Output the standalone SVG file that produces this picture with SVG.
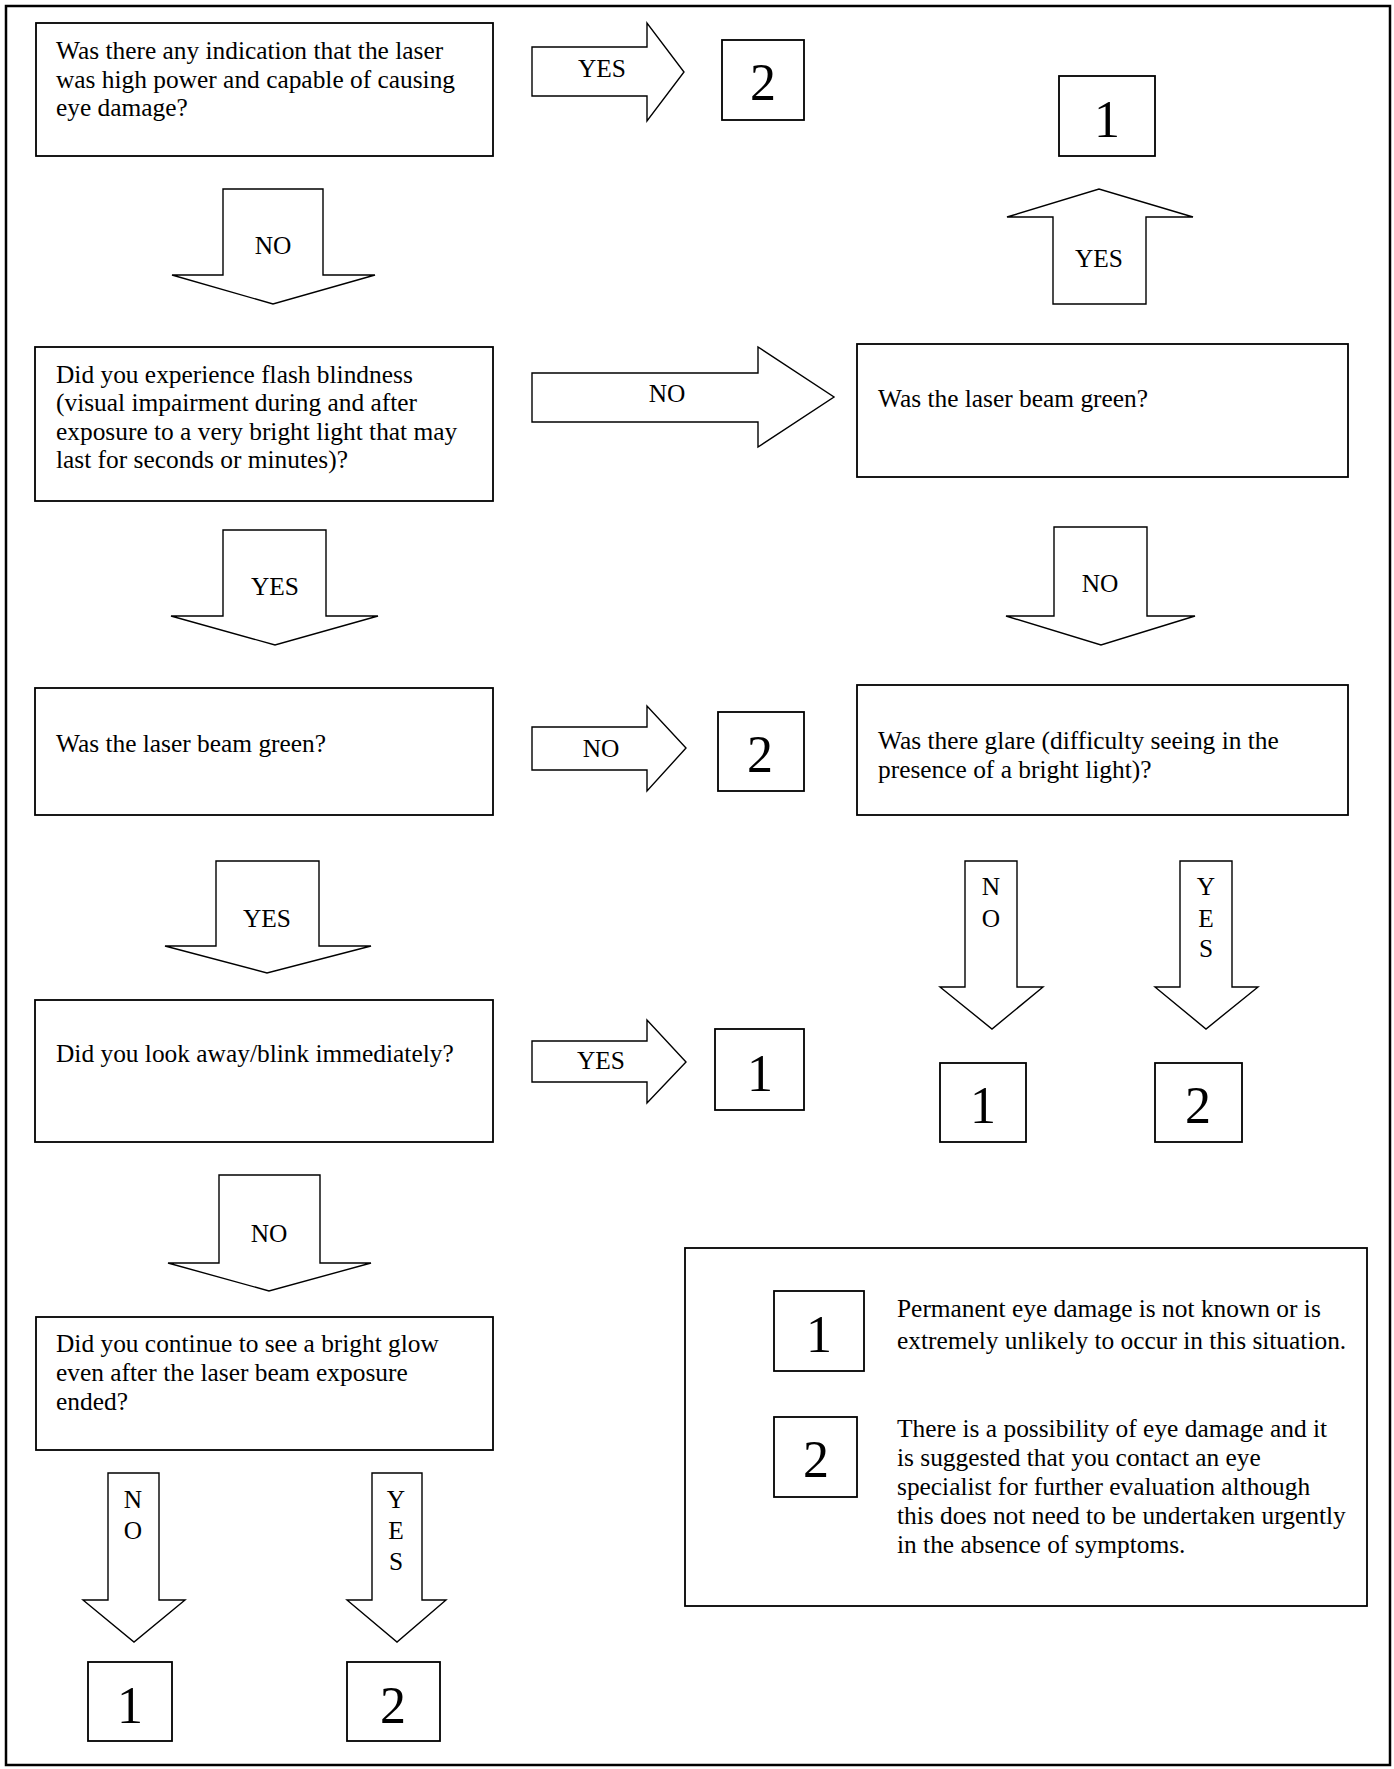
<svg xmlns="http://www.w3.org/2000/svg" width="1394" height="1769" viewBox="0 0 1394 1769">
<style>
.frame{fill:#fff;stroke:#000;stroke-width:2.5}
.box{fill:#fff;stroke:#000;stroke-width:1.8}
.arrow{fill:#fff;stroke:#000;stroke-width:1.4;stroke-linejoin:miter}
text{font-family:"Liberation Serif","Times New Roman",serif;fill:#000}
.q{font-size:25.4px}
.lbl{font-size:25.4px;text-anchor:middle}
.num{font-size:52px;text-anchor:middle}
</style>
<rect x="0" y="0" width="1394" height="1769" fill="#fff"/>
<rect class="frame" x="6" y="6" width="1384" height="1759"/>

<g id="connectors">
  <g id="a1"><polygon class="arrow" points="532,47 647,47 647,23 684,72 647,121 647,96 532,96"/><text class="lbl" x="602" y="77">YES</text></g>
  <g id="a2"><polygon class="arrow" points="1053,304 1053,217 1007,217 1099,189 1193,217 1146,217 1146,304"/><text class="lbl" x="1099" y="267">YES</text></g>
  <g id="a3"><polygon class="arrow" points="223,189 323,189 323,275 375,275 273,304 172,275 223,275"/><text class="lbl" x="273" y="254">NO</text></g>
  <g id="a4"><polygon class="arrow" points="532,373 758,373 758,347 834,397 758,447 758,422 532,422"/><text class="lbl" x="667" y="402">NO</text></g>
  <g id="a5"><polygon class="arrow" points="1054,527 1147,527 1147,616 1195,616 1101,645 1006,616 1054,616"/><text class="lbl" x="1100" y="592">NO</text></g>
  <g id="a6"><polygon class="arrow" points="223,530 326,530 326,616 378,616 275,645 171,616 223,616"/><text class="lbl" x="275" y="595">YES</text></g>
  <g id="a7"><polygon class="arrow" points="532,727 647,727 647,706 686,748 647,791 647,770 532,770"/><text class="lbl" x="601" y="757">NO</text></g>
  <g id="a8"><polygon class="arrow" points="216,861 319,861 319,946 371,946 267,973 165,946 216,946"/><text class="lbl" x="267" y="927">YES</text></g>
  <g id="a9"><polygon class="arrow" points="532,1041 647,1041 647,1020 686,1062 647,1103 647,1082 532,1082"/><text class="lbl" x="601" y="1069">YES</text></g>
  <g id="a10"><polygon class="arrow" points="965,861 1017,861 1017,987 1043,987 992,1029 940,987 965,987"/><text class="lbl" x="991" y="895">N</text><text class="lbl" x="991" y="927">O</text></g>
  <g id="a11"><polygon class="arrow" points="1180,861 1232,861 1232,987 1258,987 1206,1029 1155,987 1180,987"/><text class="lbl" x="1206" y="895">Y</text><text class="lbl" x="1206" y="927">E</text><text class="lbl" x="1206" y="957">S</text></g>
  <g id="a12"><polygon class="arrow" points="219,1175 320,1175 320,1263 371,1263 269,1291 168,1263 219,1263"/><text class="lbl" x="269" y="1242">NO</text></g>
  <g id="a13"><polygon class="arrow" points="108,1473 159,1473 159,1600 185,1600 134,1642 83,1600 108,1600"/><text class="lbl" x="133" y="1508">N</text><text class="lbl" x="133" y="1539">O</text></g>
  <g id="a14"><polygon class="arrow" points="372,1473 422,1473 422,1600 446,1600 397,1642 347,1600 372,1600"/><text class="lbl" x="396" y="1508">Y</text><text class="lbl" x="396" y="1539">E</text><text class="lbl" x="396" y="1570">S</text></g>
</g>

<g id="q1"><rect class="box" x="36" y="23" width="457" height="133"/>
  <text class="q" x="56" y="59">Was there any indication that the laser</text>
  <text class="q" x="56" y="88">was high power and capable of causing</text>
  <text class="q" x="56" y="116">eye damage?</text></g>
<g id="r1"><rect class="box" x="722" y="40" width="82" height="80"/><text class="num" x="763" y="100">2</text></g>
<g id="r2"><rect class="box" x="1059" y="76" width="96" height="80"/><text class="num" x="1107" y="137">1</text></g>

<g id="q2"><rect class="box" x="35" y="347" width="458" height="154"/>
  <text class="q" x="56" y="383">Did you experience flash blindness</text>
  <text class="q" x="56" y="411">(visual impairment during and after</text>
  <text class="q" x="56" y="440">exposure to a very bright light that may</text>
  <text class="q" x="56" y="468">last for seconds or minutes)?</text></g>

<g id="q3"><rect class="box" x="857" y="344" width="491" height="133"/>
  <text class="q" x="878" y="407">Was the laser beam green?</text></g>

<g id="q4"><rect class="box" x="35" y="688" width="458" height="127"/>
  <text class="q" x="56" y="752">Was the laser beam green?</text></g>
<g id="r3"><rect class="box" x="718" y="712" width="86" height="79"/><text class="num" x="760" y="772">2</text></g>

<g id="q6"><rect class="box" x="857" y="685" width="491" height="130"/>
  <text class="q" x="878" y="749">Was there glare (difficulty seeing in the</text>
  <text class="q" x="878" y="778">presence of a bright light)?</text></g>

<g id="q5"><rect class="box" x="35" y="1000" width="458" height="142"/>
  <text class="q" x="56" y="1062">Did you look away/blink immediately?</text></g>
<g id="r4"><rect class="box" x="715" y="1029" width="89" height="81"/><text class="num" x="760" y="1091">1</text></g>

<g id="r5"><rect class="box" x="940" y="1063" width="86" height="79"/><text class="num" x="983" y="1123">1</text></g>
<g id="r6"><rect class="box" x="1155" y="1063" width="87" height="79"/><text class="num" x="1198" y="1123">2</text></g>

<g id="q7"><rect class="box" x="36" y="1317" width="457" height="133"/>
  <text class="q" x="56" y="1352">Did you continue to see a bright glow</text>
  <text class="q" x="56" y="1381">even after the laser beam exposure</text>
  <text class="q" x="56" y="1410">ended?</text></g>

<g id="r7"><rect class="box" x="88" y="1662" width="84" height="79"/><text class="num" x="130" y="1723">1</text></g>
<g id="r8"><rect class="box" x="347" y="1662" width="93" height="79"/><text class="num" x="393" y="1723">2</text></g>

<g id="legend"><rect class="box" x="685" y="1248" width="682" height="358"/>
  <rect class="box" x="774" y="1291" width="90" height="80"/><text class="num" x="819" y="1352">1</text>
  <text class="q" x="897" y="1317">Permanent eye damage is not known or is</text>
  <text class="q" x="897" y="1349">extremely unlikely to occur in this situation.</text>
  <rect class="box" x="774" y="1417" width="83" height="80"/><text class="num" x="816" y="1477">2</text>
  <text class="q" x="897" y="1437">There is a possibility of eye damage and it</text>
  <text class="q" x="897" y="1466">is suggested that you contact an eye</text>
  <text class="q" x="897" y="1495">specialist for further evaluation although</text>
  <text class="q" x="897" y="1524">this does not need to be undertaken urgently</text>
  <text class="q" x="897" y="1553">in the absence of symptoms.</text></g>
</svg>
